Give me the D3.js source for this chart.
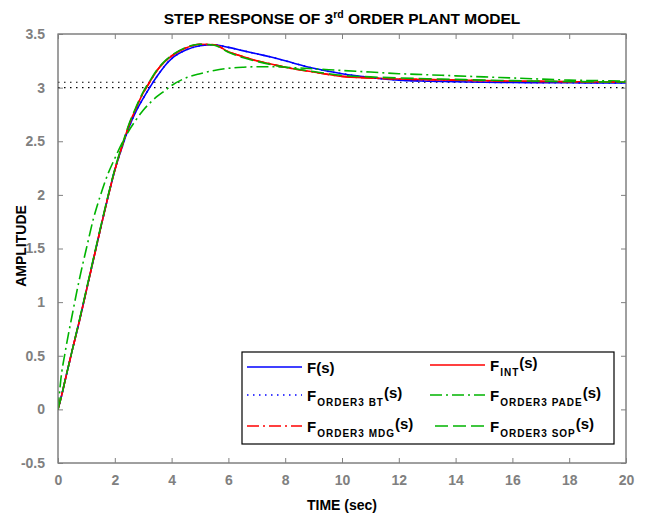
<!DOCTYPE html>
<html><head><meta charset="utf-8">
<script src="https://cdn.jsdelivr.net/npm/d3@7"></script>
<style>
html,body{margin:0;padding:0;background:#fff;}
svg{display:block;font-family:"Liberation Sans",Arial,sans-serif;}
</style></head>
<body>
<svg id="chart" width="647" height="516"></svg>
<script>
// ---- data ----
const time = [0,0.1,0.25,0.5,0.75,1,1.25,1.5,1.75,2,2.25,2.5,2.75,3,3.25,3.5,3.75,4,4.5,5,5.5,6,6.5,7,7.5,8,9,10,11,12,13,14,15,16,17,18,19,20];
const fS    = [0,0.10,0.27,0.55,0.82,1.11,1.40,1.69,1.97,2.23,2.44,2.63,2.78,2.90,3.01,3.11,3.20,3.27,3.35,3.39,3.40,3.375,3.345,3.315,3.285,3.25,3.18,3.13,3.095,3.07,3.06,3.055,3.05,3.048,3.046,3.045,3.044,3.044];
const fInt  = [0,0.10,0.27,0.55,0.82,1.11,1.40,1.69,1.97,2.23,2.45,2.65,2.81,2.95,3.06,3.165,3.24,3.295,3.37,3.405,3.40,3.335,3.29,3.25,3.22,3.19,3.145,3.105,3.09,3.08,3.075,3.07,3.065,3.06,3.058,3.055,3.053,3.05];
const fBT   = [0,0.10,0.27,0.55,0.82,1.11,1.40,1.69,1.97,2.23,2.44,2.63,2.78,2.90,3.01,3.11,3.20,3.27,3.35,3.39,3.40,3.375,3.345,3.315,3.285,3.25,3.18,3.13,3.095,3.07,3.06,3.055,3.05,3.048,3.046,3.045,3.044,3.044];
const fPade = [0,0.28,0.53,0.88,1.21,1.50,1.78,2.00,2.19,2.34,2.48,2.60,2.70,2.79,2.86,2.92,2.97,3.02,3.09,3.13,3.16,3.18,3.19,3.195,3.195,3.19,3.175,3.16,3.145,3.13,3.12,3.11,3.10,3.09,3.08,3.07,3.065,3.06];
const fMDG  = [0,0.10,0.27,0.55,0.82,1.11,1.40,1.69,1.97,2.23,2.45,2.65,2.81,2.95,3.06,3.165,3.24,3.295,3.37,3.405,3.40,3.335,3.29,3.25,3.22,3.19,3.145,3.105,3.09,3.08,3.075,3.07,3.065,3.06,3.058,3.055,3.053,3.05];
const fSOP  = [0,0.10,0.27,0.55,0.83,1.12,1.41,1.70,1.98,2.24,2.46,2.66,2.82,2.96,3.07,3.17,3.245,3.30,3.375,3.405,3.395,3.33,3.28,3.245,3.215,3.19,3.15,3.115,3.10,3.09,3.083,3.077,3.07,3.065,3.06,3.057,3.054,3.052];
const refLevels = [3.05, 3.0];
const xTickValues = [0,2,4,6,8,10,12,14,16,18,20];
const yTickValues = [-0.5,0,0.5,1,1.5,2,2.5,3,3.5];
const yTickLabels = ["-0.5","0","0.5","1","1.5","2","2.5","3","3.5"];

const series = [
  {name:"F", sub:null, values:fS, color:"#0000ff", dash:null},
  {name:"F", sub:"INT", values:fInt, color:"#ff0000", dash:null},
  {name:"F", sub:"ORDER3 BT", values:fBT, color:"#0000ff", dash:"1.5,4.5"},
  {name:"F", sub:"ORDER3 PADE", values:fPade, color:"#00b400", dash:"12,4,2,4"},
  {name:"F", sub:"ORDER3 MDG", values:fMDG, color:"#ff0000", dash:"12,4,2,4"},
  {name:"F", sub:"ORDER3 SOP", values:fSOP, color:"#00b400", dash:"13,5"}
];

// ---- layout ----
const svg = d3.select("#chart");
const L = 58, R = 626, T = 34, B = 463;
const x = d3.scaleLinear().domain([0,20]).range([L,R]);
const y = d3.scaleLinear().domain([-0.5,3.5]).range([B,T]);
const grey = "#808080";

// frame
svg.append("rect").attr("x",L).attr("y",T).attr("width",R-L).attr("height",B-T)
  .attr("fill","#fff").attr("stroke",grey).attr("stroke-width",1);

// axes (ticks inside)
const tickStyle = g => {
  g.select(".domain").remove();
  g.selectAll(".tick line").attr("stroke",grey);
  g.selectAll(".tick text").attr("fill",grey).attr("font-size",14).attr("font-weight","bold")
    .attr("font-family",'"Liberation Sans",Arial,sans-serif');
};
svg.append("g").attr("transform",`translate(0,${B})`)
  .call(d3.axisBottom(x).tickValues(xTickValues).tickSizeInner(-5).tickSizeOuter(0).tickPadding(12).tickFormat(d3.format("d")))
  .call(tickStyle);
svg.append("g").attr("transform",`translate(0,${T})`)
  .call(d3.axisTop(x).tickValues(xTickValues).tickSizeInner(-5).tickSizeOuter(0).tickFormat(""))
  .call(tickStyle);
svg.append("g").attr("transform",`translate(${L},0)`)
  .call(d3.axisLeft(y).tickValues(yTickValues).tickSizeInner(-5).tickSizeOuter(0).tickPadding(13)
    .tickFormat((d,i)=>yTickLabels[i]))
  .call(tickStyle);
svg.append("g").attr("transform",`translate(${R},0)`)
  .call(d3.axisRight(y).tickValues(yTickValues).tickSizeInner(-5).tickSizeOuter(0).tickFormat(""))
  .call(tickStyle);

// clip
svg.append("clipPath").attr("id","clip").append("rect")
  .attr("x",L).attr("y",T).attr("width",R-L).attr("height",B-T);
const plot = svg.append("g").attr("clip-path","url(#clip)");

// reference dotted lines
plot.selectAll("line.ref").data(refLevels).enter().append("line")
  .attr("x1",x(0)).attr("x2",x(20)).attr("y1",d=>y(d)).attr("y2",d=>y(d))
  .attr("stroke","#000").attr("stroke-width",1.2).attr("stroke-dasharray","1.5,4.5");

const line = d3.line().x((d,i)=>x(time[i])).y(d=>y(d)).curve(d3.curveMonotoneX);
plot.selectAll("path.s").data(series).enter().append("path")
  .attr("d",d=>line(d.values))
  .attr("fill","none").attr("stroke",d=>d.color).attr("stroke-width",1.6)
  .attr("stroke-dasharray",d=>d.dash);

// frame redraw on top
svg.append("rect").attr("x",L).attr("y",T).attr("width",R-L).attr("height",B-T)
  .attr("fill","none").attr("stroke",grey).attr("stroke-width",1);

// titles
const title = svg.append("text").attr("x",342).attr("y",24).attr("text-anchor","middle")
  .attr("font-size",15.5).attr("font-weight","bold").attr("fill","#000");
title.append("tspan").text("STEP RESPONSE OF 3");
title.append("tspan").attr("font-size",10.5).attr("dy",-6).text("rd");
title.append("tspan").attr("dy",6).text(" ORDER PLANT MODEL");

svg.append("text").attr("x",342).attr("y",510).attr("text-anchor","middle")
  .attr("font-size",14).attr("font-weight","bold").attr("fill","#000").text("TIME  (sec)");
svg.append("text").attr("transform","translate(26,246) rotate(-90)").attr("text-anchor","middle")
  .attr("font-size",14).attr("font-weight","bold").attr("fill","#000").text("AMPLITUDE");

// legend
const lg = svg.append("g");
lg.append("rect").attr("x",242).attr("y",352).attr("width",372).attr("height",92)
  .attr("fill","#fff").attr("stroke","#000").attr("stroke-width",1.2);
const colX = [247,430], rowY = [367,395,426];
series.forEach((s,i)=>{
  const c = i%2, r = Math.floor(i/2);
  const lx = colX[c], ly = rowY[r] - (c===1 && r===0 ? 2 : 0);
  lg.append("line").attr("x1",lx + (i===5?5:0)).attr("x2",lx+55).attr("y1",ly).attr("y2",ly)
    .attr("stroke",s.color).attr("stroke-width",1.3).attr("stroke-dasharray",s.dash);
  const t = lg.append("text").attr("x",lx+60).attr("y",ly+6)
    .attr("font-weight","bold").attr("fill","#000").attr("font-size",15);
  t.append("tspan").text(s.name);
  if (s.sub) {
    t.append("tspan").attr("font-size",10).attr("letter-spacing",1).attr("dy",5).attr("dx",1).text(s.sub);
    t.append("tspan").attr("dy",-8).text("(s)");
  } else {
    t.append("tspan").text("(s)");
  }
});
</script>
</body></html>
